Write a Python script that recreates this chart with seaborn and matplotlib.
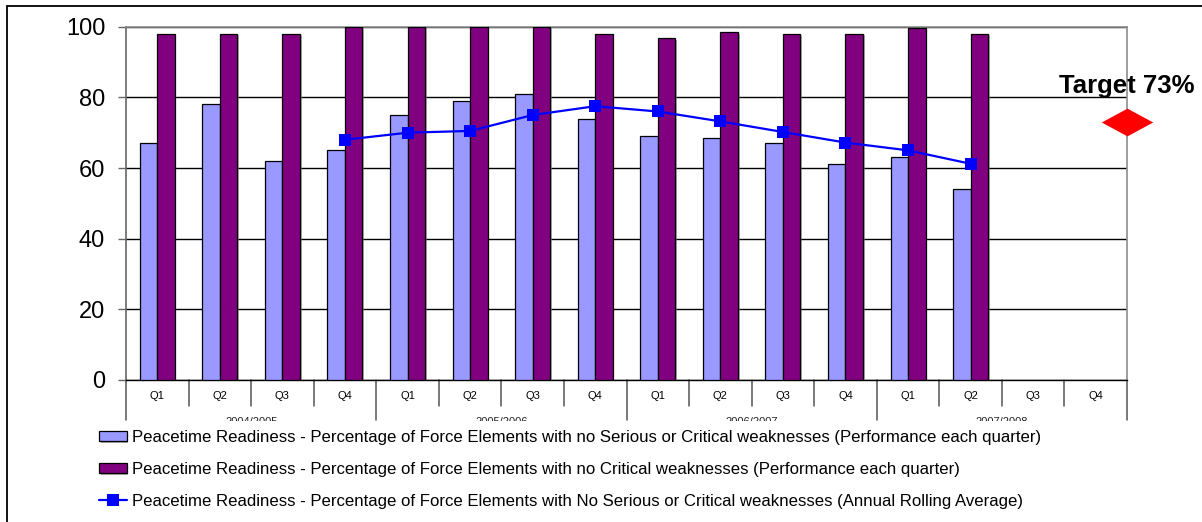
import numpy as np
import pandas as pd
import matplotlib
matplotlib.use("Agg")
import matplotlib.pyplot as plt
import seaborn as sns
from matplotlib.path import Path
from matplotlib.patches import Rectangle
from matplotlib.transforms import Bbox, TransformedBbox, blended_transform_factory
from matplotlib.lines import Line2D
from matplotlib import patheffects as pe

# ---- data -------------------------------------------------------------
years = ["2004/2005", "2005/2006", "2006/2007", "2007/2008"]
quarters = ["Q1", "Q2", "Q3", "Q4"]

no_serious_or_critical = [67, 78, 62, 65, 75, 79, 81, 74, 69, 68.6, 67, 61, 63, 54, np.nan, np.nan]
no_critical = [98, 98, 98, 100, 100, 100, 100, 98, 96.7, 98.5, 98, 98, 99.7, 98, np.nan, np.nan]
rolling_average = [np.nan, np.nan, np.nan, 68, 70, 70.5, 75, 77.5, 76, 73.2, 70.2, 67.2, 65, 61.2, np.nan, np.nan]

target_value = 73
target_label = "Target 73%"

series_names = [
    "Peacetime Readiness - Percentage of Force Elements with no Serious or Critical weaknesses (Performance each quarter)",
    "Peacetime Readiness - Percentage of Force Elements with no Critical weaknesses (Performance each quarter)",
    "Peacetime Readiness - Percentage of Force Elements with No Serious or Critical weaknesses (Annual Rolling Average)",
]
y_ticks = [0, 20, 40, 60, 80, 100]

periods = [f"{y} {q}" for y in years for q in quarters]

bars = pd.DataFrame({
    "period": periods * 2,
    "value": no_serious_or_critical + no_critical,
    "series": [series_names[0]] * 16 + [series_names[1]] * 16,
}).dropna()
line = pd.DataFrame({"period": periods, "value": rolling_average}).dropna()

# ---- style ------------------------------------------------------------
sns.set_style("white")
plt.rcParams["font.family"] = ["Liberation Sans", "DejaVu Sans"]
plt.rcParams["text.color"] = "black"
plt.rcParams["xtick.color"] = "black"
plt.rcParams["ytick.color"] = "black"

W, H = 1202, 522
fig = plt.figure(figsize=(W / 100, H / 100), dpi=100)
L, R, T, B = 126, 1127, 26.7, 380
ax = fig.add_axes([L / W, 1 - B / H, (R - L) / W, (B - T) / H])

sns.barplot(
    data=bars, x="period", y="value", hue="series",
    order=periods, hue_order=series_names[:2],
    palette=["#9999FF", "#800080"], saturation=1,
    width=0.56, gap=0, edgecolor="black", linewidth=0.9,
    errorbar=None, legend=False, ax=ax, zorder=3,
)
shadow = [pe.SimplePatchShadow(offset=(1.2, -1.2), shadow_rgbFace="#777777", alpha=0.6), pe.Normal()]
for cont in ax.containers:
    for p in cont:
        p.set_path_effects(shadow)

sns.lineplot(
    data=line, x="period", y="value", color="#0000FF",
    marker="s", markersize=8, markeredgewidth=0, linewidth=1.6,
    ax=ax, zorder=5, legend=False,
)
avg_line = ax.lines[-1]

# axes & grid
ax.set_xlim(-0.5, len(periods) - 0.5)
ax.set_ylim(0, 100)
ax.set_yticks(y_ticks)
ax.set_yticklabels([str(v) for v in y_ticks], fontsize=17)
ax.tick_params(axis="y", length=6, width=1, color="#666666", pad=9, left=True, labelcolor="black")
ax.set_xticks(range(len(periods)))
ax.set_xticklabels(quarters * len(years), fontsize=8)
ax.tick_params(axis="x", length=0, pad=8, labelcolor="black")
ax.set_xlabel("")
ax.set_ylabel("")
ax.yaxis.grid(True, color="black", linewidth=1)
ax.set_axisbelow(True)
for side in ("top", "right"):
    ax.spines[side].set_visible(True)
    ax.spines[side].set_color("#8c8c8c")
    ax.spines[side].set_linewidth(1.2)
ax.spines["left"].set_color("#666666")
ax.spines["left"].set_linewidth(1.2)
ax.spines["bottom"].set_color("black")
ax.spines["bottom"].set_linewidth(1)

# category dividers below the x axis
bt = blended_transform_factory(ax.transData, ax.transAxes)
px = 1 / (B - T)
bounds = np.arange(len(periods) + 1) - 0.5
for i, xb in enumerate(bounds):
    depth = 40 if i % 4 == 0 else 26
    ax.add_line(Line2D([xb, xb], [0, -depth * px], transform=bt, color="#555555",
                       linewidth=1.1, clip_on=False))

# year group labels, cut at the bottom of the category band
clip = TransformedBbox(Bbox([[0, 1 - 421 / H], [1, 1]]), fig.transFigure)
for g, yr in enumerate(years):
    t = ax.text(4 * g + 1.5, -37 * px, yr, transform=bt, ha="center", va="top",
                fontsize=8, color="#222222", clip_on=True)
    t.set_clip_box(clip)

# target marker
diamond = Path([(-1, 0), (0, 0.54), (1, 0), (0, -0.54), (-1, 0)],
               [Path.MOVETO, Path.LINETO, Path.LINETO, Path.LINETO, Path.CLOSEPOLY])
ax.plot([len(periods) - 0.5], [target_value], marker=diamond, markersize=37,
        color="#FF0000", markeredgewidth=0, clip_on=False, zorder=6)
ax.annotate(target_label, xy=(len(periods) - 0.5, target_value), xytext=(0, 21),
            textcoords="offset points", ha="center", va="baseline", color="black",
            fontsize=18.5, fontweight="bold", annotation_clip=False)

# legend
handles = [ax.containers[0][0], ax.containers[1][0], avg_line]
fig.legend(handles, series_names, loc="upper left",
           bbox_to_anchor=(99 / W, 1 - 430 / H), frameon=False, fontsize=12.1,
           handlelength=1.65, handleheight=0.55, handletextpad=0.3,
           labelspacing=1.0, borderpad=0, borderaxespad=0)

# outer frame
fig.add_artist(Rectangle((7 / W, -0.05), 1.2, 1.05 - 6 / H, transform=fig.transFigure,
                         fill=False, edgecolor="black", linewidth=1.3))

fig.savefig("out.png", dpi=100)
